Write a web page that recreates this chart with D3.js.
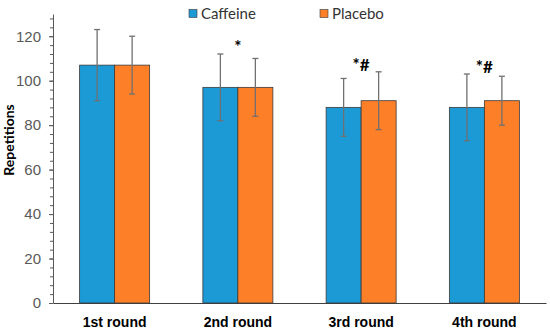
<!DOCTYPE html>
<html lang="en">
<head>
  <meta charset="UTF-8">
  <title>Repetitions by round</title>
  <script src="https://d3js.org/d3.v7.min.js"></script>
  <style>
    body { margin: 0; background: #fff; }
    svg { display: block; font-family: Lato, 'Open Sans', sans-serif; }
    .tick-label { font-size: 15px; fill: #595959; }
    .cat-label { font-size: 14px; font-weight: bold; fill: #000; }
    .legend-label { font-size: 15px; fill: #333; }
  </style>
</head>
<body>
  <svg id="chart" width="550" height="330"></svg>

  <script>
    const rounds = ["1st round", "2nd round", "3rd round", "4th round"];
    const seriesNames = ["Caffeine", "Placebo"];
    const caffeineMean = [107, 97, 88, 88];
    const caffeineSD = [16, 15, 13, 15];
    const placeboMean = [107, 97, 91, 91];
    const placeboSD = [13, 13, 13, 11];
    const marks = ["", "*", "*#", "*#"];
    const yTicks = [0, 20, 40, 60, 80, 100, 120];

    const colors = {Caffeine: "#1b9ad6", Placebo: "#fd7f28"};

    const data = rounds.map((r, i) => ({
      round: r,
      values: [
        {series: "Caffeine", mean: caffeineMean[i], sd: caffeineSD[i]},
        {series: "Placebo", mean: placeboMean[i], sd: placeboSD[i]}
      ],
      mark: marks[i]
    }));

    const svg = d3.select("#chart");
    const margin = {top: 14, right: 4, bottom: 27, left: 53};
    const width = +svg.attr("width") - margin.left - margin.right;
    const height = +svg.attr("height") - margin.top - margin.bottom;
    const g = svg.append("g").attr("transform", `translate(${margin.left},${margin.top})`);

    const x0 = d3.scaleBand()
      .domain(rounds)
      .range([0, width])
      .paddingInner(0.432)
      .paddingOuter(0.216);

    const x1 = d3.scaleBand()
      .domain(seriesNames)
      .range([0, x0.bandwidth()]);

    const y = d3.scaleLinear()
      .domain([0, 130])
      .range([height, 0]);

    // minor ticks
    g.append("g")
      .call(d3.axisLeft(y).tickValues(d3.range(0, 130, 4)).tickSize(3).tickFormat(""))
      .call(a => a.select(".domain").remove())
      .selectAll("line").attr("stroke", "#595959");

    // major axis
    const yAxis = g.append("g")
      .call(d3.axisLeft(y).tickValues(yTicks).tickSize(4).tickPadding(8).tickSizeOuter(0));
    yAxis.select(".domain").attr("stroke", "#595959");
    yAxis.selectAll(".tick line").attr("stroke", "#595959");
    yAxis.selectAll("text").attr("class", "tick-label").attr("font-family", null).attr("font-size", null);

    // x axis
    const xAxis = g.append("g")
      .attr("transform", `translate(0,${height})`)
      .call(d3.axisBottom(x0).tickSize(0).tickPadding(14).tickSizeOuter(0));
    xAxis.select(".domain").attr("stroke", "#404040");
    xAxis.selectAll("text").attr("class", "cat-label").attr("font-family", null).attr("font-size", null);

    const groups = g.selectAll(".group")
      .data(data)
      .enter()
      .append("g")
      .attr("transform", d => `translate(${x0(d.round)},0)`);

    groups.selectAll("rect")
      .data(d => d.values)
      .enter()
      .append("rect")
      .attr("x", d => x1(d.series))
      .attr("y", d => y(d.mean))
      .attr("width", x1.bandwidth())
      .attr("height", d => height - y(d.mean))
      .attr("fill", d => colors[d.series])
      .attr("stroke", "#3a3a3a")
      .attr("stroke-width", 0.8);

    // error bars
    const err = groups.selectAll(".err")
      .data(d => d.values)
      .enter()
      .append("g")
      .attr("stroke", "#707070")
      .attr("stroke-width", 1.3);

    err.append("line")
      .attr("x1", d => x1(d.series) + x1.bandwidth() / 2)
      .attr("x2", d => x1(d.series) + x1.bandwidth() / 2)
      .attr("y1", d => y(d.mean + d.sd))
      .attr("y2", d => y(d.mean - d.sd));
    err.append("line")
      .attr("x1", d => x1(d.series) + x1.bandwidth() / 2 - 3)
      .attr("x2", d => x1(d.series) + x1.bandwidth() / 2 + 3)
      .attr("y1", d => y(d.mean + d.sd))
      .attr("y2", d => y(d.mean + d.sd));
    err.append("line")
      .attr("x1", d => x1(d.series) + x1.bandwidth() / 2 - 3)
      .attr("x2", d => x1(d.series) + x1.bandwidth() / 2 + 3)
      .attr("y1", d => y(d.mean - d.sd))
      .attr("y2", d => y(d.mean - d.sd));

    // significance marks
    groups.append("text")
      .attr("x", x0.bandwidth() / 2)
      .attr("y", d => y(d3.max(d.values, v => v.mean + v.sd)) - 1)
      .attr("text-anchor", "middle")
      .attr("font-size", 17)
      .attr("font-weight", "bold")
      .text(d => d.mark);

    // y title
    svg.append("text")
      .attr("transform", `translate(14,${margin.top + 126}) rotate(-90)`)
      .attr("text-anchor", "middle")
      .attr("class", "cat-label")
      .attr("font-size", 14)
      .text("Repetitions");

    // legend
    const legend = svg.append("g").attr("transform", "translate(189,8)");
    const item = legend.selectAll("g")
      .data(seriesNames)
      .enter()
      .append("g")
      .attr("transform", (d, i) => `translate(${i * 131},0)`);
    item.append("rect")
      .attr("width", 8).attr("height", 8)
      .attr("y", 1.5)
      .attr("fill", d => colors[d])
      .attr("stroke", "#3a3a3a")
      .attr("stroke-width", 0.6);
    item.append("text")
      .attr("x", 12)
      .attr("y", 11)
      .attr("class", "legend-label")
      .text(d => d);
  </script>
</body>
</html>
